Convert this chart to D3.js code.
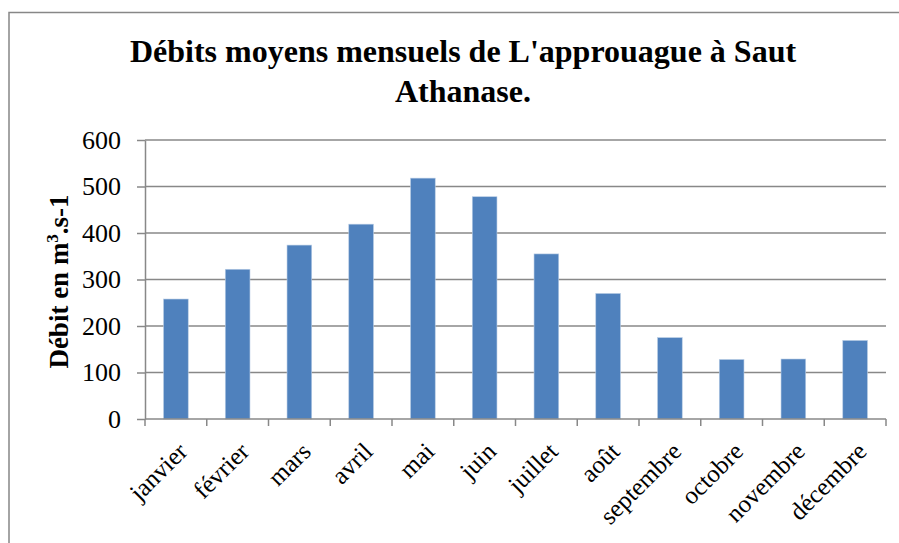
<!DOCTYPE html>
<html>
<head>
<meta charset="utf-8">
<script src="https://cdn.jsdelivr.net/npm/d3@7"></script>
<style>
  html, body { margin: 0; padding: 0; background: #fff; overflow: hidden; }
  svg { display: block; font-family: 'Liberation Serif', 'Times New Roman', serif; }
</style>
</head>
<body>
<div id="chart"></div>
<script>
const months = ['janvier', 'février', 'mars', 'avril', 'mai', 'juin', 'juillet', 'août', 'septembre', 'octobre', 'novembre', 'décembre'];
const debits = [258, 322, 374, 419, 518, 478, 355, 270, 175, 128, 129, 169];
const yTicks = [0, 100, 200, 300, 400, 500, 600];
const titleLines = ["Débits moyens mensuels de L'approuague à Saut", 'Athanase.'];

const width = 899;
const height = 543;
const margin = { top: 140, right: 13, bottom: 124, left: 145 };
const innerWidth = width - margin.left - margin.right;
const innerHeight = height - margin.top - margin.bottom;

const svg = d3.select('#chart')
  .append('svg')
  .attr('width', width)
  .attr('height', height);

// chart frame
svg.append('path')
  .attr('d', `M9,${height + 2}V12.5H${width + 2}`)
  .attr('fill', 'none')
  .attr('stroke', '#878787')
  .attr('stroke-width', 1.5);

svg.append('text')
  .attr('x', 463)
  .attr('y', 62)
  .attr('text-anchor', 'middle')
  .attr('font-size', 32)
  .attr('font-weight', 'bold')
  .selectAll('tspan')
  .data(titleLines)
  .join('tspan')
  .attr('x', 463)
  .attr('dy', (d, i) => (i === 0 ? 0 : 40))
  .text((d) => d);

const plot = svg.append('g').attr('transform', `translate(${margin.left},${margin.top})`);

const x = d3.scaleBand()
  .domain(months)
  .range([0, innerWidth])
  .paddingInner(0.6)
  .paddingOuter(0.3);

const y = d3.scaleLinear()
  .domain([0, 600])
  .range([innerHeight, 0]);

// gridlines
plot.append('g')
  .selectAll('line')
  .data(yTicks.filter((t) => t > 0))
  .join('line')
  .attr('x1', 0)
  .attr('x2', innerWidth)
  .attr('y1', (d) => y(d))
  .attr('y2', (d) => y(d))
  .attr('stroke', '#888')
  .attr('stroke-width', 1.5);

// y axis
const axisY = plot.append('g')
  .call(d3.axisLeft(y).tickValues(yTicks).tickSize(8).tickSizeOuter(0).tickPadding(16));
axisY.select('.domain').attr('stroke', '#888').attr('stroke-width', 1.5);
axisY.selectAll('.tick line').attr('stroke', '#888').attr('stroke-width', 1.5);
axisY.selectAll('.tick text')
  .attr('font-family', "'Liberation Serif', serif")
  .attr('font-size', 26)
  .attr('fill', '#000');

// bars
plot.append('g')
  .selectAll('rect')
  .data(debits)
  .join('rect')
  .attr('x', (d, i) => x(months[i]))
  .attr('y', (d) => y(d))
  .attr('width', x.bandwidth())
  .attr('height', (d) => innerHeight - y(d))
  .attr('fill', '#4F81BD')
  .attr('stroke', '#B9CDE5')
  .attr('stroke-width', 0.6);

// x axis with ticks between categories
const step = x.step();
const xAxis = plot.append('g').attr('transform', `translate(0,${innerHeight})`);
xAxis.append('line')
  .attr('x1', 0)
  .attr('x2', innerWidth)
  .attr('stroke', '#888')
  .attr('stroke-width', 1.5);
xAxis.selectAll('.sep')
  .data(d3.range(months.length + 1))
  .join('line')
  .attr('class', 'sep')
  .attr('x1', (i) => i * step)
  .attr('x2', (i) => i * step)
  .attr('y1', 0)
  .attr('y2', 7)
  .attr('stroke', '#888')
  .attr('stroke-width', 1.5);

xAxis.selectAll('.label')
  .data(months)
  .join('text')
  .attr('class', 'label')
  .attr('text-anchor', 'end')
  .attr('font-size', 25)
  .attr('transform', (d) => `translate(${x(d) + x.bandwidth() / 2 + 13},${34}) rotate(-45)`)
  .text((d) => d);

// y axis title
const yTitle = svg.append('text')
  .attr('transform', `translate(68,${margin.top + innerHeight / 2 + 2}) rotate(-90)`)
  .attr('text-anchor', 'middle')
  .attr('font-size', 27)
  .attr('font-weight', 'bold');
yTitle.append('tspan').text('Débit en m');
yTitle.append('tspan').attr('font-size', 17).attr('dy', -10).text('3');
yTitle.append('tspan').attr('dy', 10).text('.s-1');
</script>
</body>
</html>
